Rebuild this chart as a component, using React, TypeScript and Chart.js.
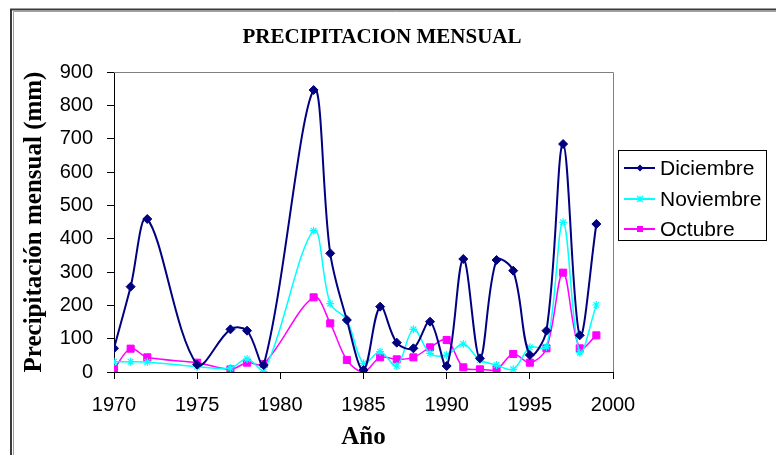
import React, { useEffect, useRef } from "react";
import { Chart, registerables } from "chart.js";

Chart.register(...registerables);

const years = [1970, 1971, 1972, 1975, 1977, 1978, 1979, 1982, 1983, 1984, 1985, 1986, 1987, 1988, 1989, 1990, 1991, 1992, 1993, 1994, 1995, 1996, 1997, 1998, 1999];
const diciembre = [71, 256, 459, 22, 128, 124, 21, 846, 356, 156, 6, 196, 88, 71, 151, 18, 339, 41, 336, 304, 51, 124, 684, 110, 444];
const noviembre = [31, 31, 30, 16, 12, 39, 1, 424, 205, 156, 26, 61, 18, 128, 56, 51, 84, 36, 21, 8, 74, 76, 449, 58, 201];
const octubre = [8, 70, 44, 28, 8, 28, 24, 224, 146, 36, 0, 44, 38, 44, 74, 96, 14, 8, 8, 54, 28, 71, 298, 71, 110];

const xTicksMin = 1970;
const xTicksMax = 2000;
const xStep = 5;
const yMin = 0;
const yMax = 900;
const yStep = 100;

const chartTitle = "PRECIPITACION MENSUAL";
const xTitle = "Año";
const yTitle = "Precipitación mensual (mm)";

const SANS = "'Liberation Sans', Arial, sans-serif";
const SERIF = "'Liberation Serif', 'Times New Roman', serif";

const toPoints = (vals: number[]) => years.map((y, i) => ({ x: y, y: vals[i] }));

const decorPlugin = {
  id: "decor",
  beforeDraw(chart: any) {
    const ctx = chart.ctx;
    ctx.save();
    ctx.fillStyle = "#ffffff";
    ctx.fillRect(0, 0, chart.width, chart.height);
    ctx.restore();
  },
  afterDraw(chart: any) {
    const ctx = chart.ctx;
    const a = chart.chartArea;
    ctx.save();
    // outer frame
    ctx.strokeStyle = "#3a3a3a";
    ctx.lineWidth = 2;
    ctx.strokeRect(11, 9.5, 900, 600);
    ctx.strokeStyle = "#a0a0a0";
    ctx.lineWidth = 1;
    ctx.beginPath();
    ctx.moveTo(13.5, 11.5);
    ctx.lineTo(13.5, 460);
    ctx.moveTo(13.5, 11.5);
    ctx.lineTo(800, 11.5);
    ctx.stroke();
    // plot area gray top/right border
    ctx.strokeStyle = "#808080";
    ctx.lineWidth = 1;
    ctx.beginPath();
    ctx.moveTo(a.left, a.top + 0.5);
    ctx.lineTo(a.right + 0.5, a.top + 0.5);
    ctx.lineTo(a.right + 0.5, a.bottom);
    ctx.stroke();
    // title
    ctx.fillStyle = "#000";
    ctx.font = "bold 21px " + SERIF;
    ctx.textAlign = "center";
    ctx.textBaseline = "middle";
    ctx.fillText(chartTitle, 382, 38);
    // legend
    const lx = 618.5, ly = 150.5, lw = 148, lh = 90;
    ctx.fillStyle = "#fff";
    ctx.fillRect(lx, ly, lw, lh);
    ctx.strokeStyle = "#000";
    ctx.lineWidth = 1;
    ctx.strokeRect(lx, ly, lw, lh);
    const rows = [168, 199, 229];
    chart.data.datasets.forEach((ds: any, i: number) => {
      const y = rows[i];
      ctx.strokeStyle = ds.borderColor;
      ctx.lineWidth = 2;
      ctx.beginPath();
      ctx.moveTo(624, y);
      ctx.lineTo(655, y);
      ctx.stroke();
      const cx = 640;
      if (ds.pointStyle === "rectRot") {
        ctx.fillStyle = ds.borderColor;
        ctx.beginPath();
        ctx.moveTo(cx, y - 3.5);
        ctx.lineTo(cx + 3.5, y);
        ctx.lineTo(cx, y + 3.5);
        ctx.lineTo(cx - 3.5, y);
        ctx.closePath();
        ctx.fill();
      } else if (ds.pointStyle === "rect") {
        ctx.fillStyle = ds.borderColor;
        ctx.fillRect(cx - 3, y - 3, 6, 6);
      } else {
        ctx.lineWidth = 1.2;
        ctx.beginPath();
        ctx.moveTo(cx - 3, y - 3);
        ctx.lineTo(cx + 3, y + 3);
        ctx.moveTo(cx + 3, y - 3);
        ctx.lineTo(cx - 3, y + 3);
        ctx.moveTo(cx, y - 3);
        ctx.lineTo(cx, y + 3);
        ctx.stroke();
      }
      ctx.fillStyle = "#000";
      ctx.font = "21px " + SANS;
      ctx.textAlign = "left";
      ctx.textBaseline = "middle";
      ctx.fillText(ds.label, 660, y + 1);
    });
    ctx.restore();
  },
};

export default function App() {
  const ref = useRef<HTMLCanvasElement | null>(null);
  useEffect(() => {
    if (!ref.current) return;
    const chart = new Chart(ref.current, {
      type: "line",
      data: {
        datasets: [
          {
            label: "Diciembre",
            data: toPoints(diciembre),
            borderColor: "#000080",
            backgroundColor: "#000080",
            borderWidth: 2,
            pointStyle: "rectRot",
            pointRadius: 4.5,
            pointBorderWidth: 1,
            tension: 0.35,
            fill: false,
          },
          {
            label: "Noviembre",
            data: toPoints(noviembre),
            borderColor: "#00ffff",
            backgroundColor: "#00ffff",
            borderWidth: 1.5,
            pointStyle: "star",
            pointRadius: 4,
            pointBorderWidth: 1.2,
            tension: 0.35,
            fill: false,
          },
          {
            label: "Octubre",
            data: toPoints(octubre),
            borderColor: "#ff00ff",
            backgroundColor: "#ff00ff",
            borderWidth: 1.5,
            pointStyle: "rect",
            pointRadius: 5,
            pointBorderWidth: 1,
            tension: 0.35,
            fill: false,
          },
        ],
      },
      options: {
        responsive: false,
        animation: false,
        devicePixelRatio: 1,
        layout: { padding: { left: 12, top: 72, right: 163, bottom: 0 } },
        plugins: {
          legend: { display: false },
          title: { display: false },
          tooltip: { enabled: false },
        },
        scales: {
          x: {
            type: "linear",
            min: xTicksMin,
            max: xTicksMax,
            ticks: {
              stepSize: xStep,
              color: "#000",
              font: { family: SANS, size: 20 },
              padding: 14,
              maxRotation: 0,
              callback: (v: any) => String(v),
            },
            grid: { drawOnChartArea: false, drawTicks: true, tickLength: 7, color: "#000" },
            border: { display: true, color: "#000", width: 1 },
            title: {
              display: true,
              text: xTitle,
              color: "#000",
              font: { family: SERIF, size: 25, weight: "bold" },
              padding: { top: 0, bottom: 2 },
            },
            afterFit: (s: any) => {
              s.height = 83;
            },
          },
          y: {
            min: yMin,
            max: yMax,
            ticks: {
              stepSize: yStep,
              color: "#000",
              font: { family: SANS, size: 20 },
              padding: 14,
            },
            grid: { drawOnChartArea: false, drawTicks: true, tickLength: 7, color: "#000" },
            border: { display: true, color: "#000", width: 1 },
            title: {
              display: true,
              text: yTitle,
              color: "#000",
              font: { family: SERIF, size: 25, weight: "bold" },
              padding: { top: 8, bottom: 0 },
            },
            afterFit: (s: any) => {
              s.width = 102;
            },
          },
        },
      },
      plugins: [decorPlugin],
    } as any);
    return () => chart.destroy();
  }, []);
  return (
    <div style={{ position: "fixed", left: 0, top: 0, width: 776, height: 455, background: "#fff" }}>
      <canvas ref={ref} width={776} height={455} style={{ width: 776, height: 455, display: "block" }} />
    </div>
  );
}
